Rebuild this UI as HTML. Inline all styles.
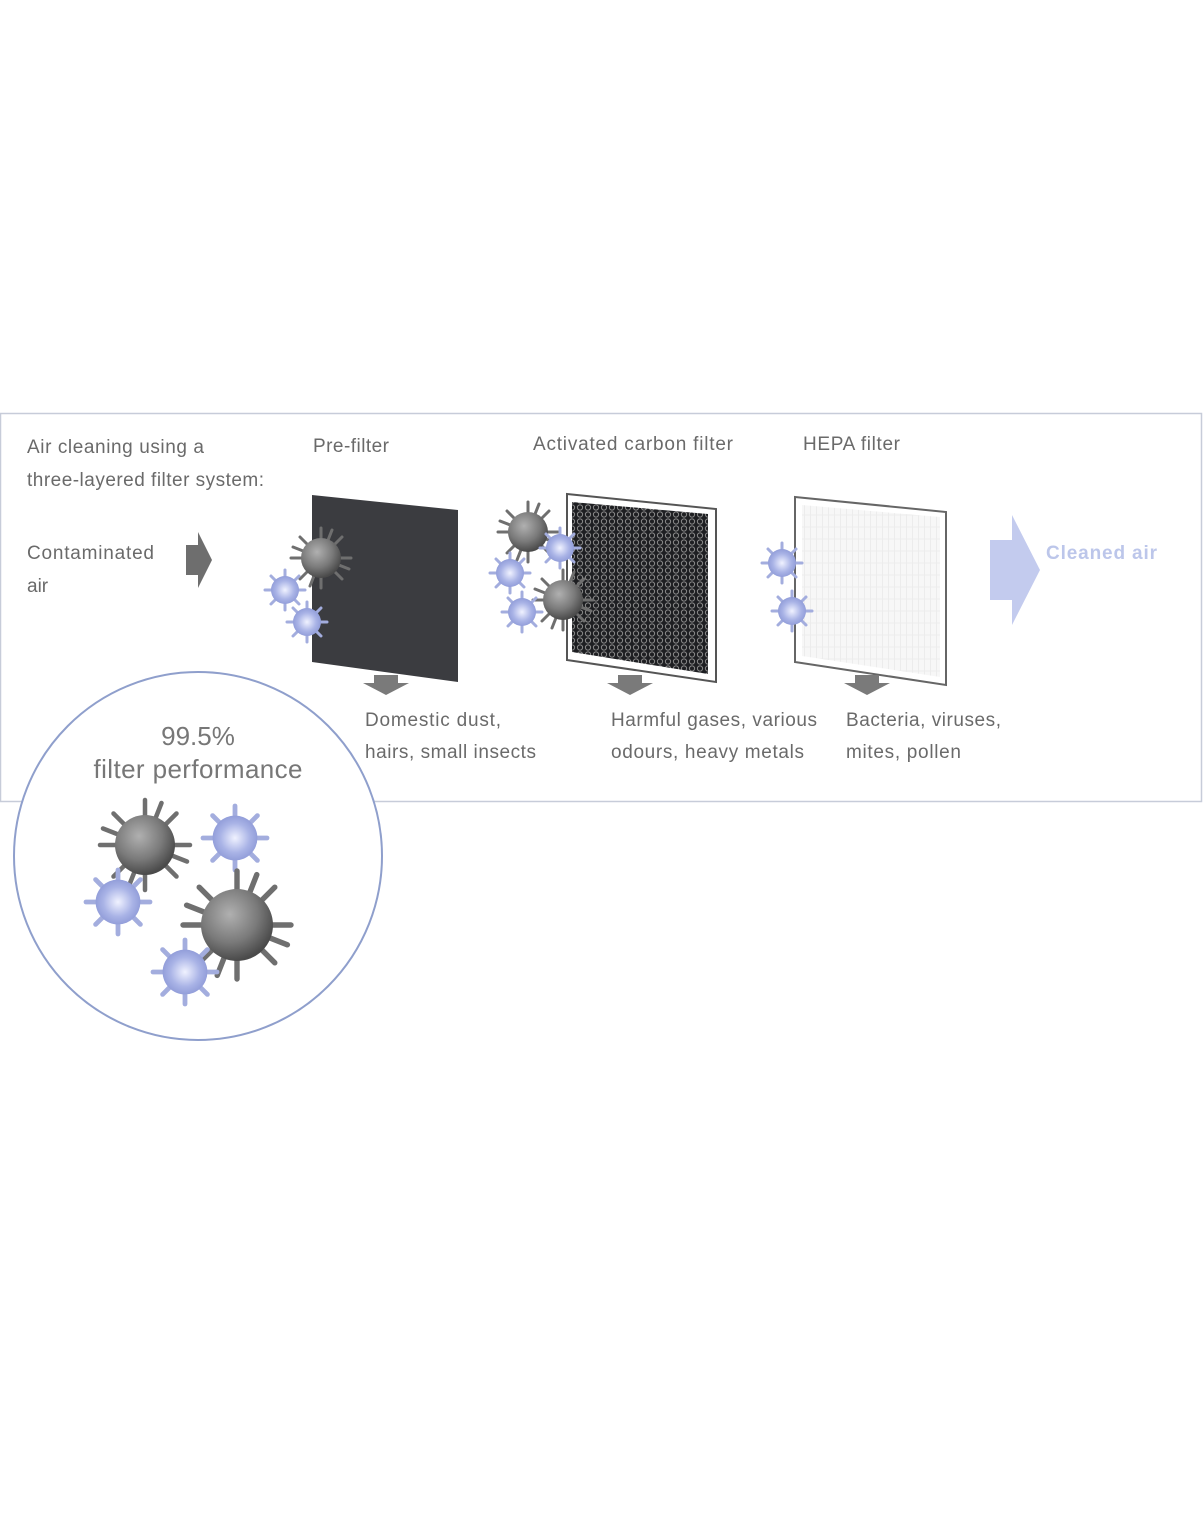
<!DOCTYPE html>
<html><head><meta charset="utf-8"><style>
html,body{margin:0;padding:0;background:#fff;}
svg{display:block}
text{font-family:"Liberation Sans",sans-serif;fill:#6a6a6a;}
</style></head><body>
<svg width="1204" height="1518" viewBox="0 0 1204 1518" xmlns="http://www.w3.org/2000/svg">
<defs>
<radialGradient id="g" cx="40%" cy="35%" r="65%"><stop offset="0" stop-color="#b0b0b0"/><stop offset="0.6" stop-color="#7a7a7a"/><stop offset="1" stop-color="#4a4a4a"/></radialGradient>
<radialGradient id="b" cx="50%" cy="50%" r="55%"><stop offset="0" stop-color="#f0f2ff"/><stop offset="0.6" stop-color="#a9b3e6"/><stop offset="1" stop-color="#8c98d6"/></radialGradient>
<pattern id="hex" width="8" height="7" patternUnits="userSpaceOnUse"><rect width="8" height="7" fill="#1e1f22"/><circle cx="4" cy="3.5" r="2.6" fill="none" stroke="#8a8a8a" stroke-width="1"/></pattern>
<pattern id="hepa" width="6" height="12" patternUnits="userSpaceOnUse"><rect width="6" height="12" fill="#f7f7f7"/><line x1="0" y1="0" x2="0" y2="12" stroke="#e2e2e2"/><line x1="0" y1="11" x2="6" y2="11" stroke="#ececec"/></pattern>
<g id="gp"><g stroke="#6f6f6f" stroke-width="3" stroke-linecap="round"><line x1="-30" y1="0" x2="30" y2="0"/><line x1="0" y1="-30" x2="0" y2="30"/><line x1="-21" y1="-21" x2="21" y2="21"/><line x1="-21" y1="21" x2="21" y2="-21"/><line x1="-28" y1="-11" x2="28" y2="11"/><line x1="-11" y1="28" x2="11" y2="-28"/></g><circle r="20" fill="url(#g)"/></g>
<g id="bp"><g stroke="#a3adde" stroke-width="3" stroke-linecap="round"><line x1="-20" y1="0" x2="20" y2="0"/><line x1="0" y1="-20" x2="0" y2="20"/><line x1="-14" y1="-14" x2="14" y2="14"/><line x1="-14" y1="14" x2="14" y2="-14"/></g><circle r="14" fill="url(#b)"/></g>
</defs>
<rect x="0.5" y="413.5" width="1201" height="388" fill="none" stroke="#c7ccd9" stroke-width="1.5"/>
<text x="27" y="453" font-size="19" textLength="177">Air cleaning using a</text>
<text x="27" y="486" font-size="19" textLength="237">three-layered filter system:</text>
<text x="27" y="559" font-size="19" textLength="127">Contaminated</text>
<text x="27" y="592" font-size="19">air</text>
<text x="313" y="452" font-size="19" textLength="76">Pre-filter</text>
<text x="533" y="450" font-size="19" textLength="200">Activated carbon filter</text>
<text x="803" y="450" font-size="19" textLength="97">HEPA filter</text>
<text x="1046" y="559" font-size="19" font-weight="bold" style="fill:#bcc6ea" textLength="111">Cleaned air</text>
<polygon points="186,545 198,545 198,532 212,560 198,588 198,575 186,575" fill="#6e6e6e"/>
<polygon points="990,540 1012,540 1012,515 1040,570 1012,625 1012,600 990,600" fill="#c3cbee"/>
<polygon points="312,495 458,510 458,682 312,662" fill="#3b3c40"/>
<polygon points="567,494 716,509 716,682 567,660" fill="#fff" stroke="#555" stroke-width="2"/>
<polygon points="572,502 708,514 708,674 572,652" fill="url(#hex)"/>
<polygon points="795,497 946,512 946,685 795,662" fill="#fff" stroke="#666" stroke-width="2"/>
<polygon points="802,505 940,517 940,677 802,656" fill="url(#hepa)"/>
<use href="#gp" x="321" y="558"/>
<use href="#bp" x="285" y="590"/>
<use href="#bp" x="307" y="622"/>
<use href="#gp" x="528" y="532"/>
<use href="#bp" x="560" y="548"/>
<use href="#bp" x="510" y="573"/>
<use href="#gp" x="563" y="600"/>
<use href="#bp" x="522" y="612"/>
<use href="#bp" x="782" y="563"/>
<use href="#bp" x="792" y="611"/>
<g fill="#7a7a7a">
<polygon points="374,675 398,675 398,683 409,683 386,695 363,683 374,683"/>
<polygon points="618,675 642,675 642,683 653,683 630,695 607,683 618,683"/>
<polygon points="855,675 879,675 879,683 890,683 867,695 844,683 855,683"/>
</g>
<text x="365" y="726" font-size="19" textLength="136">Domestic dust,</text>
<text x="365" y="758" font-size="19" textLength="171">hairs, small insects</text>
<text x="611" y="726" font-size="19" textLength="206">Harmful gases, various</text>
<text x="611" y="758" font-size="19" textLength="193">odours, heavy metals</text>
<text x="846" y="726" font-size="19" textLength="155">Bacteria, viruses,</text>
<text x="846" y="758" font-size="19" textLength="115">mites, pollen</text>
<circle cx="198" cy="856" r="184" fill="#fff" stroke="#8f9fcc" stroke-width="2"/>
<text x="198" y="745" font-size="26" text-anchor="middle" style="fill:#777">99.5%</text>
<text x="198" y="778" font-size="26" text-anchor="middle" style="fill:#777" textLength="209">filter performance</text>
<use href="#gp" transform="translate(145,845) scale(1.5)"/>
<use href="#bp" transform="translate(235,838) scale(1.6)"/>
<use href="#bp" transform="translate(118,902) scale(1.6)"/>
<use href="#gp" transform="translate(237,925) scale(1.8)"/>
<use href="#bp" transform="translate(185,972) scale(1.6)"/>
</svg>
</body></html>
